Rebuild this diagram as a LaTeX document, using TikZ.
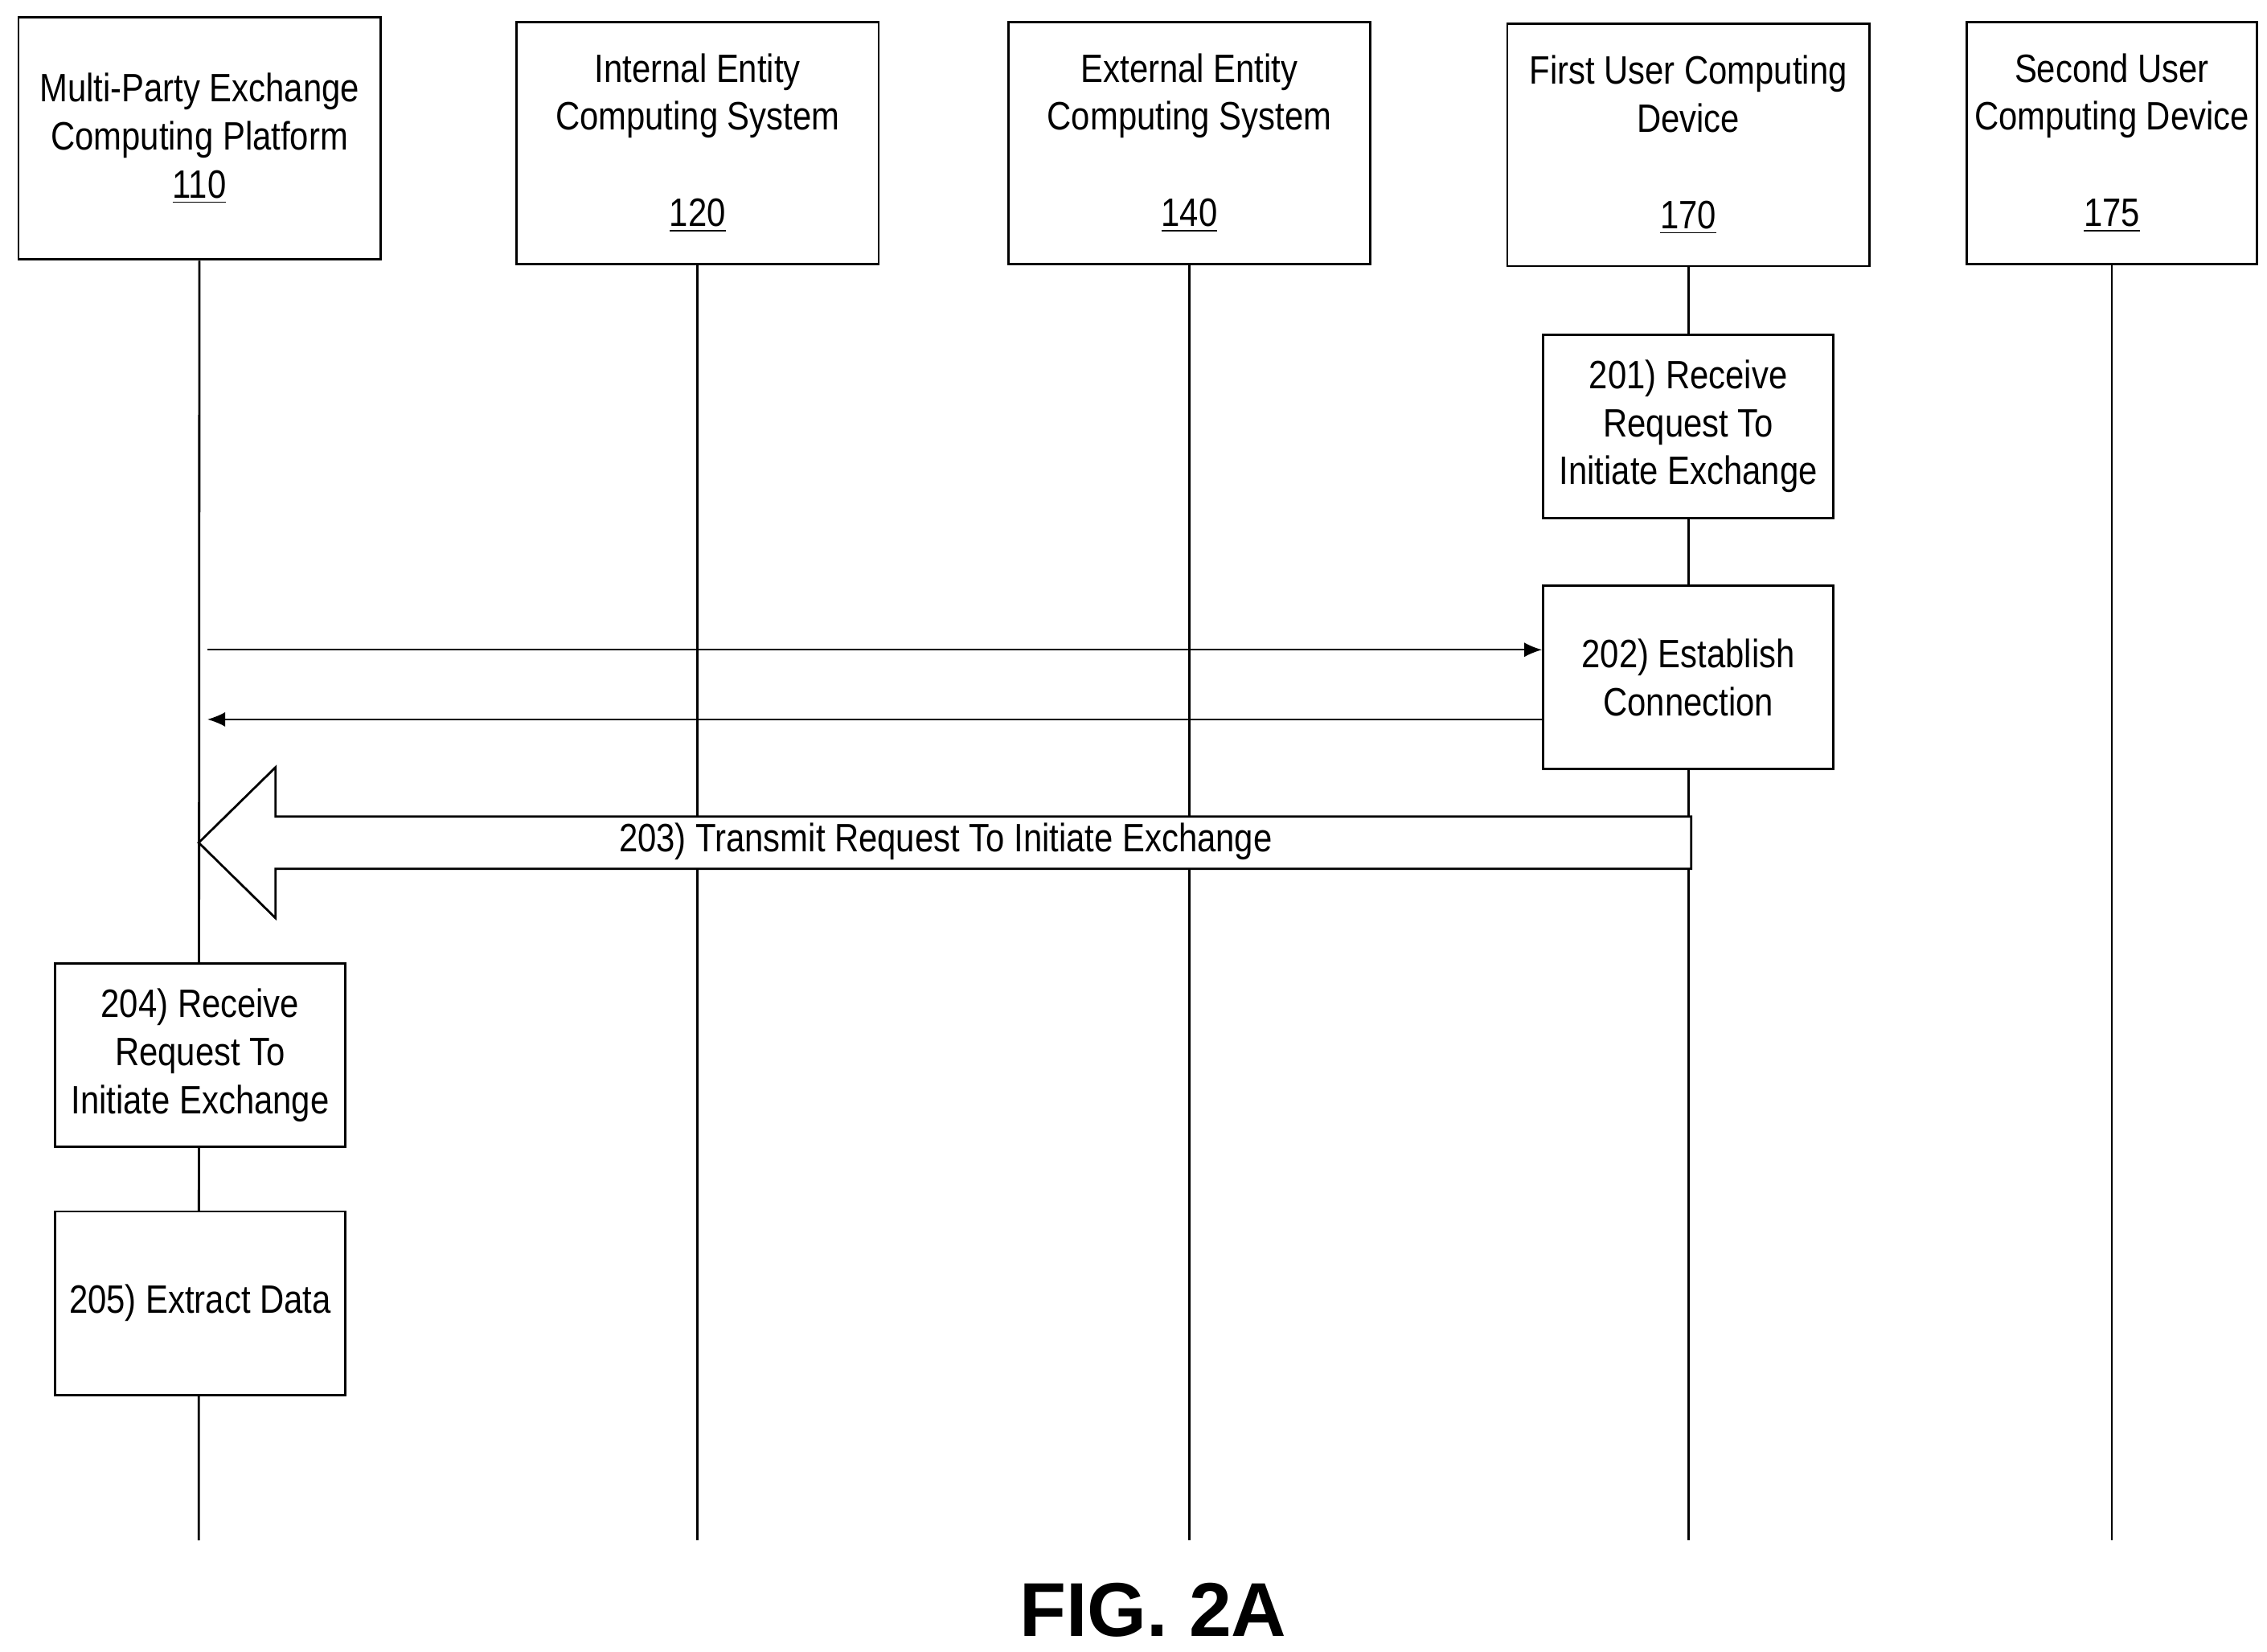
\documentclass[tikz,border=0pt]{standalone}
\usepackage{fontspec}
\setmainfont[FakeStretch=0.85]{Liberation Sans}
\newfontfamily\figfont{Liberation Sans}
\usetikzlibrary{arrows.meta}
\tikzset{box/.style={rectangle,draw,fill=white,line width=0.8pt,align=center,inner sep=0pt,
    font=\fontsize{14}{17}\selectfont}}
\tikzset{head/.style={box,minimum width=4.5cm,minimum height=3.01cm}}
\tikzset{act/.style={box,minimum width=3.61cm,minimum height=2.28cm}}
\tikzset{life/.style={line width=0.8pt}}
\tikzset{msg/.style={line width=0.5pt,-{Latex[length=2.2mm,width=1.8mm]}}}

\begin{document}
\begin{tikzpicture}[x=0.01804cm,y=-0.01804cm]
      \useasboundingbox (0,0) rectangle (1563,1138.6);
      \node[head] (P110) at (137.5,95.5) {Multi-Party Exchange\\Computing Platform\\\underline{110}};
      \node[head] (P120) at (481,98.5) {Internal Entity\\Computing System\\ \\\underline{120}};
      \node[head] (P140) at (820,98.5) {External Entity\\Computing System\\ \\\underline{140}};
      \node[head] (P170) at (1164,100) {First User Computing\\Device\\ \\\underline{170}};
      \node[head,minimum width=3.61cm] (P175) at (1456,98.5) {Second User\\Computing Device\\ \\\underline{175}};
      \foreach \n/\x in {110/137,120/481,140/820,170/1164,175/1456}
        \coordinate (E\n) at (\x,1062);
      \foreach \n in {110,120,140,170,175}
        \draw[life] (P\n) -- (E\n);
      \node[act] (S201) at (1164,294) {201) Receive\\Request To\\Initiate Exchange};
      \node[act] (S202) at (1164,467) {202) Establish\\Connection};
      \node[act] (S204) at (138,727.5) {204) Receive\\Request To\\Initiate Exchange};
      \node[act] (S205) at (138,898.5) {205) Extract Data};
      \coordinate (M1) at (143,448);
      \coordinate (M2) at (143,496);
      \draw[msg] (M1) -- (S202.west |- M1);
      \draw[msg] (S202.west |- M2) -- (M2);
      % wide arrow for step 203
      \draw[line width=0.8pt,fill=white] (1166,563) -- (190,563) -- (190,529) -- (137,581)
        -- (190,633) -- (190,599) -- (1166,599) -- cycle;
      \node[box,draw=none,fill=none] (S203) at (652,580) {203) Transmit Request To Initiate Exchange};
      \node[font=\figfont\bfseries\fontsize{27}{30}\selectfont] (FIG) at (795,1110) {FIG. 2A};
\end{tikzpicture}
\end{document}
